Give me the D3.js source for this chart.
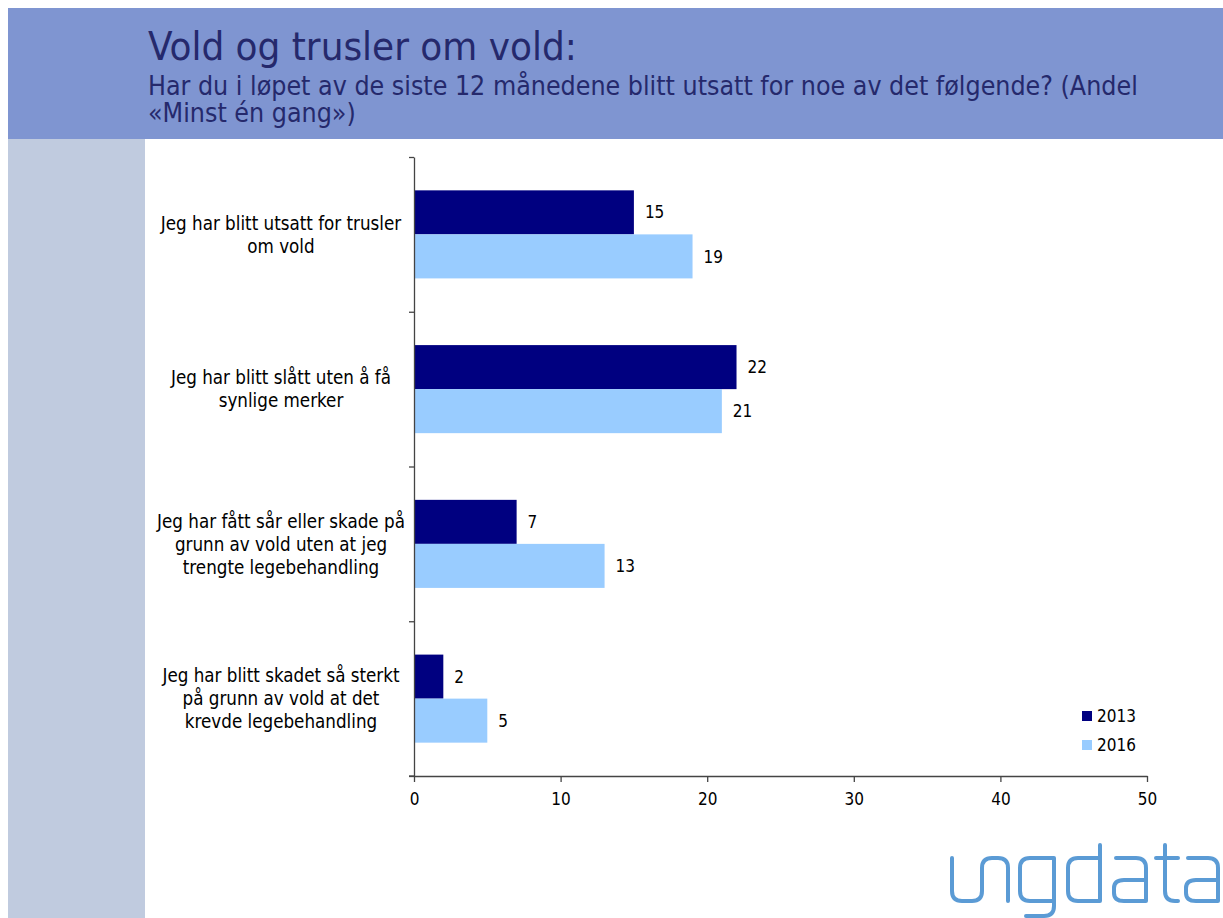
<!DOCTYPE html>
<html>
<head>
<meta charset="utf-8">
<script src="https://cdn.jsdelivr.net/npm/d3@7"></script>
<style>
  html, body { margin: 0; padding: 0; background: #ffffff; }
  svg { display: block; }
</style>
</head>
<body>
<svg id="chart" width="1223" height="918"></svg>
<script>
// Survey items (each entry is the label split into its display lines)
const categories = [
  ["Jeg har blitt utsatt for trusler", "om vold"],
  ["Jeg har blitt slått uten å få", "synlige merker"],
  ["Jeg har fått sår eller skade på", "grunn av vold uten at jeg", "trengte legebehandling"],
  ["Jeg har blitt skadet så sterkt", "på grunn av vold at det", "krevde legebehandling"]
];
const series = ["2013", "2016"];
const values2013 = [15, 22, 7, 2];
const values2016 = [19, 21, 13, 5];
const xTicks = [0, 10, 20, 30, 40, 50];
const titleText = "Vold og trusler om vold:";
const subtitleLines = [
  "Har du i løpet av de siste 12 månedene blitt utsatt for noe av det følgende? (Andel",
  "«Minst én gang»)"
];

const FONT = "'DejaVu Sans Condensed', 'DejaVu Sans', Tahoma, Verdana, sans-serif";
const colors = { "2013": "#000080", "2016": "#99ccff" };
const valuesBySeries = { "2013": values2013, "2016": values2016 };

const svg = d3.select("#chart");

// Shrink or grow a text's font size so it spans the wanted width
function fitWidth(sel, width) {
  const w = sel.node().getComputedTextLength();
  const fs = parseFloat(sel.attr("font-size"));
  sel.attr("font-size", (fs * width / w).toFixed(2));
}

// ---- page frame: header band and side strip ----
svg.append("rect").attr("x", 8).attr("y", 8).attr("width", 1215).attr("height", 131)
  .attr("fill", "#7f95d1");
svg.append("rect").attr("x", 8).attr("y", 139).attr("width", 137).attr("height", 779)
  .attr("fill", "#c0cbdf");

const title = svg.append("text")
  .attr("x", 148).attr("y", 60)
  .attr("font-family", FONT).attr("font-size", 34)
  .attr("fill", "#25296c")
  .text(titleText);
fitWidth(title, 429);

const sub = svg.append("g");
subtitleLines.forEach((line, i) => {
  sub.append("text")
    .attr("x", 148).attr("y", 95 + i * 27)
    .attr("font-family", FONT).attr("font-size", 22)
    .attr("fill", "#25296c")
    .text(line);
});
// same size for both subtitle lines, set by the long first line
{
  const first = sub.select("text");
  fitWidth(first, 990);
  sub.selectAll("text").attr("font-size", first.attr("font-size"));
}

// ---- scales ----
const x = d3.scaleLinear().domain([0, 50]).range([414, 1147]);
const y = d3.scaleBand().domain(d3.range(categories.length))
  .range([157, 776]).paddingInner(0.431).paddingOuter(0.2155);
const ySub = d3.scaleBand().domain(series).range([0, y.bandwidth()]);

// ---- bars ----
const groups = svg.append("g").selectAll("g")
  .data(categories.map((c, i) => i))
  .join("g")
  .attr("transform", i => `translate(0,${y(i)})`);

groups.selectAll("rect")
  .data(i => series.map(s => ({ s, v: valuesBySeries[s][i] })))
  .join("rect")
  .attr("x", x(0))
  .attr("y", d => ySub(d.s))
  .attr("width", d => x(d.v) - x(0))
  .attr("height", ySub.bandwidth())
  .attr("fill", d => colors[d.s]);

groups.selectAll("text.val")
  .data(i => series.map(s => ({ s, v: valuesBySeries[s][i] })))
  .join("text")
  .attr("class", "val")
  .attr("x", d => x(d.v) + 11)
  .attr("y", d => ySub(d.s) + ySub.bandwidth() / 2)
  .attr("dy", "0.36em")
  .attr("font-family", FONT).attr("font-size", 17)
  .attr("fill", "#000")
  .text(d => d.v);

// ---- category labels (centred multi-line) ----
const lineH = 23;
const catLabels = svg.append("g");
categories.forEach((lines, i) => {
  const cy = y(i) + y.bandwidth() / 2;
  const t = catLabels.append("text")
    .attr("font-family", FONT).attr("font-size", 16)
    .attr("text-anchor", "middle").attr("fill", "#000");
  lines.forEach((ln, j) => {
    t.append("tspan")
      .attr("x", 281)
      .attr("y", cy + (j - (lines.length - 1) / 2) * lineH)
      .attr("dy", "0.36em")
      .text(ln);
  });
});
{
  // size the labels so the widest line spans the label column
  const spans = catLabels.selectAll("tspan").nodes();
  const widest = d3.max(spans, n => n.getComputedTextLength());
  catLabels.selectAll("text").attr("font-size", (16 * 248 / widest).toFixed(2));
}

// ---- axes ----
const axisColor = "#444";
const yEdges = d3.scaleLinear().domain([0, categories.length]).range([157, 776]);
const yAxis = svg.append("g")
  .attr("transform", `translate(${x(0)},0)`)
  .call(d3.axisLeft(yEdges).ticks(categories.length).tickFormat("").tickSize(5).tickSizeOuter(0));

const xAxis = svg.append("g")
  .attr("transform", "translate(0,776)")
  .call(d3.axisBottom(x).tickValues(xTicks).tickSize(6).tickSizeOuter(0).tickPadding(11));

[yAxis, xAxis].forEach(a => {
  a.select(".domain").attr("stroke", axisColor).attr("stroke-width", 1.3);
  a.selectAll(".tick line").attr("stroke", axisColor).attr("stroke-width", 1.3);
});
xAxis.selectAll(".tick text")
  .attr("font-family", FONT).attr("font-size", 17).attr("fill", "#000");
// extend the baseline a little past the vertical axis
xAxis.append("line").attr("x1", x(0) - 5).attr("x2", x(0)).attr("y1", 0).attr("y2", 0)
  .attr("stroke", axisColor).attr("stroke-width", 1.3);

// ---- legend ----
const legend = svg.append("g").attr("transform", "translate(1082,716)");
series.forEach((s, i) => {
  const row = legend.append("g").attr("transform", `translate(0,${i * 29})`);
  row.append("rect").attr("x", 0).attr("y", -5).attr("width", 10).attr("height", 10)
    .attr("fill", colors[s]);
  row.append("text").attr("x", 15).attr("y", 0).attr("dy", "0.36em")
    .attr("font-family", FONT).attr("font-size", 17).attr("fill", "#000")
    .text(s);
});

// ---- ungdata wordmark ----
const logoStrokes = [
  // u + n drawn as one continuous stroke
  "M952,858 V891 Q952,901 962,901 H972 Q982,901 982,891 V868 Q982,858 992,858 H998 Q1008,858 1008,868 V901",
  // g
  "M1054,901 H1030 Q1020,901 1020,891 V868 Q1020,858 1030,858 H1054 V906 Q1054,916 1044,916 H1026",
  // d
  "M1100,845 V901 H1078 Q1068,901 1068,891 V868 Q1068,858 1078,858 H1100",
  // a
  "M1116,858 H1136 Q1146,858 1146,868 V901 H1124 Q1114,901 1114,893 V888 Q1114,880 1124,880 H1146",
  // t
  "M1165,845 V891 Q1165,901 1175,901 H1178 M1156,858 H1178",
  // a
  "M1188,858 H1208 Q1218,858 1218,868 V901 H1196 Q1186,901 1186,893 V888 Q1186,880 1196,880 H1218"
];
svg.append("g").attr("fill", "none").attr("stroke", "#5b9bd5")
  .attr("stroke-width", 4).attr("stroke-linecap", "round").attr("stroke-linejoin", "round")
  .selectAll("path").data(logoStrokes).join("path").attr("d", d => d);
</script>
</body>
</html>
